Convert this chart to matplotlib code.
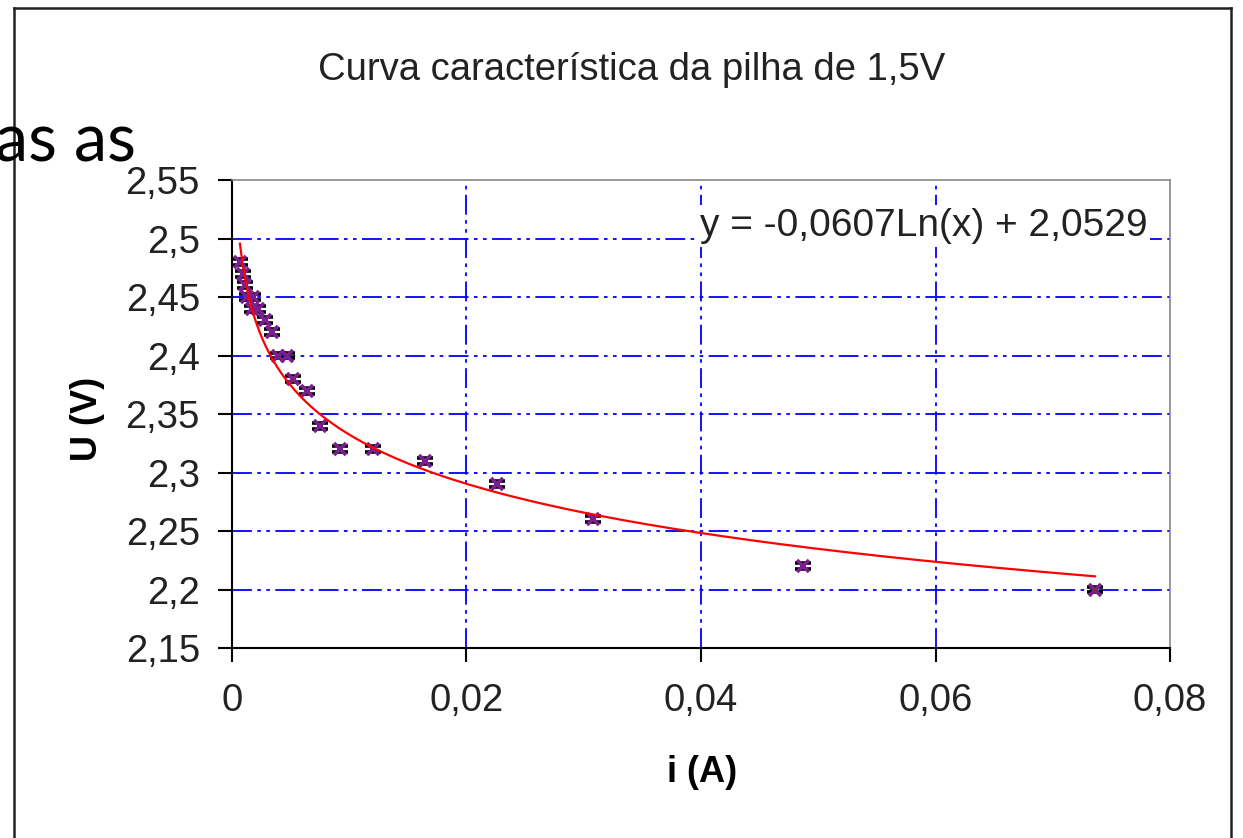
import matplotlib
matplotlib.use('Agg')
import matplotlib.pyplot as plt
import numpy as np
from matplotlib.ticker import FuncFormatter, MultipleLocator

# measured points: current (A) and voltage (V)
i_vals = [0.00068, 0.00094, 0.0011, 0.0013, 0.0018, 0.0017, 0.0022, 0.0028, 0.0034,
          0.0039, 0.0047, 0.0052, 0.0064, 0.0075, 0.0092, 0.0120, 0.0165, 0.0226,
          0.0308, 0.0487, 0.0736]
u_vals = [2.48, 2.47, 2.46, 2.45, 2.45, 2.44, 2.44, 2.43, 2.42,
          2.40, 2.40, 2.38, 2.37, 2.34, 2.32, 2.32, 2.31, 2.29,
          2.26, 2.22, 2.20]
u_err = 0.0025

# log trendline given on the chart
fit_a = -0.0607
fit_b = 2.0529

plt.rcParams['font.family'] = ['Liberation Sans', 'DejaVu Sans']

fig = plt.figure(figsize=(12.43, 8.38), dpi=100)
ax = fig.add_axes([0.1866, 0.2267, 0.7547, 0.5585])

grid_ls = (0, (11, 3, 2, 3, 2, 3))
for x in [0.02, 0.04, 0.06]:
    ax.axvline(x, color='#0000ff', lw=1.3, ls=grid_ls, zorder=1)
for y in [2.2, 2.25, 2.3, 2.35, 2.4, 2.45, 2.5]:
    ax.axhline(y, color='#0000ff', lw=1.3, ls=grid_ls, zorder=1)

ax.errorbar(i_vals, u_vals, yerr=u_err, fmt='x', color='#7a1f8f', ms=8, mew=2.6,
            ecolor='black', elinewidth=1.2, capsize=5.5, capthick=2, zorder=3)

xf = np.linspace(min(i_vals), max(i_vals), 300)
ax.plot(xf, fit_a * np.log(xf) + fit_b, color='#ff0000', lw=1.6, zorder=4)

ax.set_xlim(0, 0.08)
ax.set_ylim(2.15, 2.55)
ax.xaxis.set_major_locator(MultipleLocator(0.02))
ax.yaxis.set_major_locator(MultipleLocator(0.05))
fmt = FuncFormatter(lambda v, p: ('%g' % round(v, 4)).replace('.', ','))
ax.xaxis.set_major_formatter(fmt)
ax.yaxis.set_major_formatter(fmt)
ax.tick_params(direction='out', length=10, width=1.5, labelsize=27.5, colors='black',
               labelcolor='#222222', pad=13)
ax.tick_params(axis='x', pad=15)
for s in ['left', 'bottom']:
    ax.spines[s].set_color('black')
    ax.spines[s].set_linewidth(1.5)
for s in ['top', 'right']:
    ax.spines[s].set_color('#888888')
    ax.spines[s].set_linewidth(1.2)

ax.set_xlabel('i (A)', fontsize=26, fontweight='bold')
ax.set_ylabel('U (V)', fontsize=26, fontweight='bold')
ax.xaxis.set_label_coords(0.501, -0.229)
ax.yaxis.set_label_coords(-0.135, 0.49)

ax.text(0.0399, 2.5105, 'y = -0,0607Ln(x) + 2,0529', fontsize=28, color='#222222',
        ha='left', va='center', zorder=5,
        bbox=dict(facecolor='white', edgecolor='none', pad=2))

fig.text(0.508, 0.916, 'Curva característica da pilha de 1,5V', fontsize=27.5,
         color='#222222', ha='center', va='center')

# outer frame of the pasted chart
fig.add_artist(plt.Line2D([0.0115, 0.0115], [0, 0.991], color='#222222', lw=1.8,
                          transform=fig.transFigure))
fig.add_artist(plt.Line2D([0.0115, 0.99], [0.991, 0.991], color='#222222', lw=1.8,
                          transform=fig.transFigure))
fig.add_artist(plt.Line2D([0.99, 0.99], [0, 0.991], color='#222222', lw=1.8,
                          transform=fig.transFigure))

fig.text(-0.004, 0.83, 'as as', fontsize=48, family=['Lato', 'DejaVu Sans'],
         color='black', ha='left', va='center')

fig.savefig('out.png', dpi=100)
